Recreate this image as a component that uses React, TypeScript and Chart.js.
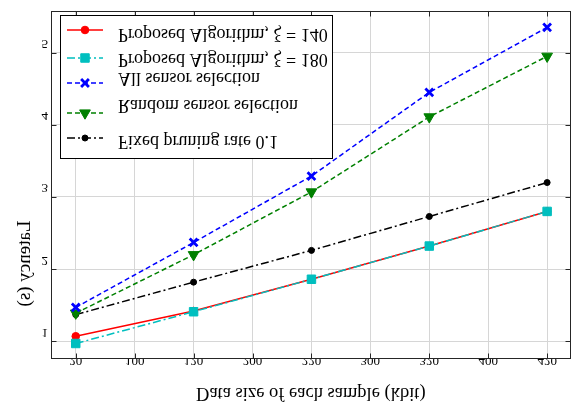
import React, { useEffect, useRef } from "react";
import { Chart, registerables } from "chart.js";

Chart.register(...registerables);

// ---- data ----
const xValues = [20, 120, 220, 320, 420];
const proposed140 = [1.07, 1.42, 1.86, 2.32, 2.8];
const proposed180 = [0.97, 1.41, 1.86, 2.32, 2.8];
const allSensor = [1.47, 2.37, 3.29, 4.45, 5.35];
const randomSensor = [1.39, 2.2, 3.07, 4.11, 4.95];
const fixedPruning = [1.37, 1.82, 2.26, 2.73, 3.2];

const xTickValues = [20, 70, 120, 170, 220, 270, 320, 370, 420];
const xTickLabels = ["20", "100", "120", "200", "220", "300", "320", "400", "420"];
const yTickValues = [1, 2, 3, 4, 5];

const seriesLabels = [
  "Proposed Algorithm, ξ = 140",
  "Proposed Algorithm, ξ = 180",
  "All sensor selection",
  "Random sensor selection",
  "Fixed pruning rate 0.1",
];
const xTitle = "Data size of each sample (kbit)";
const yTitle = "Latency (s)";

// ---- styles / layout ----
const SERIF = "'Liberation Serif', 'DejaVu Serif', serif";
const DASH = [5, 3];
const DASHDOT = [8, 3, 2, 3];

type Style = {
  color: string;
  dash: number[];
  point: string;
  radius: number;
  pbw: number;
  rot: number;
};
const styles: Style[] = [
  { color: "#ff0000", dash: [], point: "circle", radius: 3.8, pbw: 1, rot: 0 },
  { color: "#00bfbf", dash: DASHDOT, point: "rect", radius: 6, pbw: 1, rot: 0 },
  { color: "#0000ff", dash: DASH, point: "crossRot", radius: 5.5, pbw: 2.8, rot: 0 },
  { color: "#008000", dash: DASH, point: "triangle", radius: 6.2, pbw: 1, rot: 180 },
  { color: "#000000", dash: DASHDOT, point: "circle", radius: 3, pbw: 1, rot: 0 },
];
const seriesData = [proposed140, proposed180, allSensor, randomSensor, fixedPruning];
const drawOrder = [1, 0, 2, 3, 4];

const legendBox = { x: 60, y: 15, w: 272, h: 143 };
const legendMarkerY = [30, 58, 83, 113, 138];
const legendTextY = [28.5, 54, 72.5, 100, 136];

function drawFlipped(ctx: CanvasRenderingContext2D, orig: any, text: string, x: number, yb: number) {
  ctx.save();
  ctx.translate(x, yb);
  ctx.scale(1, -1);
  ctx.textBaseline = "alphabetic";
  orig.call(ctx, text, 0, 0);
  ctx.restore();
}

function drawMarker(ctx: CanvasRenderingContext2D, s: Style, x: number, y: number) {
  ctx.save();
  ctx.fillStyle = s.color;
  ctx.strokeStyle = s.color;
  ctx.setLineDash([]);
  ctx.lineWidth = s.pbw;
  const r = s.radius;
  ctx.beginPath();
  if (s.point === "circle") {
    ctx.arc(x, y, r, 0, Math.PI * 2);
    ctx.fill();
    ctx.stroke();
  } else if (s.point === "rect") {
    const h = Math.SQRT1_2 * r;
    ctx.rect(x - h, y - h, 2 * h, 2 * h);
    ctx.fill();
    ctx.stroke();
  } else if (s.point === "crossRot") {
    const o = Math.SQRT1_2 * r;
    ctx.moveTo(x - o, y - o);
    ctx.lineTo(x + o, y + o);
    ctx.moveTo(x - o, y + o);
    ctx.lineTo(x + o, y - o);
    ctx.stroke();
  } else if (s.point === "triangle") {
    ctx.moveTo(x, y + r);
    ctx.lineTo(x - r * 0.866, y - r * 0.5);
    ctx.lineTo(x + r * 0.866, y - r * 0.5);
    ctx.closePath();
    ctx.fill();
    ctx.stroke();
  }
  ctx.restore();
}

const overlayPlugin = {
  id: "overlay",
  afterDatasetsDraw(chart: any) {
    const ctx: CanvasRenderingContext2D = chart.ctx;
    const orig = (ctx as any).__origFillText || ctx.fillText;
    const a = chart.chartArea;
    const L = Math.round(a.left) + 0.5;
    const R = Math.round(a.right) - 0.5;
    const T = Math.round(a.top) + 0.5;
    const B = Math.round(a.bottom) - 0.5;
    ctx.save();
    ctx.strokeStyle = "#262626";
    ctx.lineWidth = 1;
    ctx.setLineDash([]);
    ctx.strokeRect(L, T, R - L, B - T);
    const tl = 5;
    ctx.beginPath();
    for (const v of yTickValues) {
      const y = Math.round(chart.scales.y.getPixelForValue(v)) + 0.5;
      ctx.moveTo(L, y);
      ctx.lineTo(L + tl, y);
      ctx.moveTo(R, y);
      ctx.lineTo(R - tl, y);
    }
    for (const v of xTickValues) {
      const x = Math.round(chart.scales.x.getPixelForValue(v)) + 0.5;
      ctx.moveTo(x, B);
      ctx.lineTo(x, B - tl);
      ctx.moveTo(x, T);
      ctx.lineTo(x, T + tl);
    }
    ctx.stroke();

    // legend
    const lb = legendBox;
    ctx.fillStyle = "#ffffff";
    ctx.fillRect(lb.x + 0.5, lb.y + 0.5, lb.w, lb.h);
    ctx.strokeStyle = "#000000";
    ctx.strokeRect(lb.x + 0.5, lb.y + 0.5, lb.w, lb.h);
    for (let i = 0; i < styles.length; i++) {
      const s = styles[i];
      const my = legendMarkerY[i];
      ctx.save();
      ctx.strokeStyle = s.color;
      ctx.lineWidth = 1.5;
      ctx.setLineDash(s.dash);
      ctx.beginPath();
      ctx.moveTo(67, my);
      ctx.lineTo(103, my);
      ctx.stroke();
      ctx.restore();
      drawMarker(ctx, s, 85, my);
      ctx.save();
      ctx.fillStyle = "#000000";
      ctx.font = `18px ${SERIF}`;
      ctx.textAlign = "left";
      drawFlipped(ctx, orig, seriesLabels[i], 118, legendTextY[i]);
      ctx.restore();
    }

    // axis titles
    ctx.fillStyle = "#000000";
    ctx.font = `18.5px ${SERIF}`;
    ctx.textAlign = "center";
    drawFlipped(ctx, orig, xTitle, (a.left + a.right) / 2, 388);

    // y title: reads top-to-bottom, glyph tops pointing left
    ctx.save();
    ctx.font = `19px ${SERIF}`;
    ctx.setTransform(0, 1, 1, 0, 30, 263.5);
    ctx.textAlign = "center";
    ctx.textBaseline = "alphabetic";
    orig.call(ctx, yTitle, 0, 0);
    ctx.restore();

    ctx.restore();
  },
};

function patchContext(ctx: any) {
  if (ctx.__origFillText) return;
  const orig = ctx.fillText;
  ctx.__origFillText = orig;
  ctx.fillText = function (text: string, x: number, y: number, maxWidth?: number) {
    const m = this.measureText(text);
    const top = y - m.actualBoundingBoxAscent;
    this.save();
    this.translate(0, 2 * top);
    this.scale(1, -1);
    if (maxWidth !== undefined) orig.call(this, text, x, y, maxWidth);
    else orig.call(this, text, x, y);
    this.restore();
  };
}

export default function App() {
  const ref = useRef<HTMLCanvasElement | null>(null);
  useEffect(() => {
    const canvas = ref.current;
    if (!canvas) return;
    const ctx = canvas.getContext("2d");
    patchContext(ctx);
    const datasets = styles.map((s, i) => ({
      label: seriesLabels[i],
      data: xValues.map((x, j) => ({ x, y: seriesData[i][j] })),
      borderColor: s.color,
      backgroundColor: s.color,
      borderWidth: 1.5,
      borderDash: s.dash,
      pointStyle: s.point,
      pointRadius: s.radius,
      pointBorderWidth: s.pbw,
      pointBackgroundColor: s.color,
      pointBorderColor: s.color,
      pointRotation: s.rot,
      tension: 0,
      fill: false,
      order: drawOrder[i],
    }));
    const tickFont = { family: SERIF, size: 13 };
    const chart = new Chart(canvas, {
      type: "line",
      data: { datasets } as any,
      options: {
        animation: false,
        responsive: false,
        events: [],
        layout: { padding: { left: 0, top: 5, right: 7, bottom: 0 } },
        plugins: { legend: { display: false }, tooltip: { enabled: false } },
        scales: {
          x: {
            type: "linear",
            min: -1,
            max: 440,
            afterBuildTicks: (s: any) => {
              s.ticks = xTickValues.map((v) => ({ value: v }));
            },
            afterFit: (s: any) => {
              s.height = 51;
            },
            grid: { color: "#d6d6d6", lineWidth: 1, drawTicks: false },
            border: { display: false },
            ticks: {
              padding: 3,
              font: tickFont,
              color: "#000",
              autoSkip: false,
              maxRotation: 0,
              callback: (_v: any, i: number) => xTickLabels[i],
            },
          },
          y: {
            type: "linear",
            min: 0.755,
            max: 5.58,
            afterBuildTicks: (s: any) => {
              s.ticks = yTickValues.map((v) => ({ value: v }));
            },
            afterFit: (s: any) => {
              s.width = 51;
            },
            grid: { color: "#d6d6d6", lineWidth: 1, drawTicks: false },
            border: { display: false },
            ticks: { padding: 3, font: tickFont, color: "#000" },
          },
        },
      } as any,
      plugins: [overlayPlugin],
    });
    return () => chart.destroy();
  }, []);
  return (
    <canvas
      ref={ref}
      width={579}
      height={410}
      style={{ position: "absolute", left: 0, top: 0, width: 579, height: 410, background: "#fff" }}
    />
  );
}
